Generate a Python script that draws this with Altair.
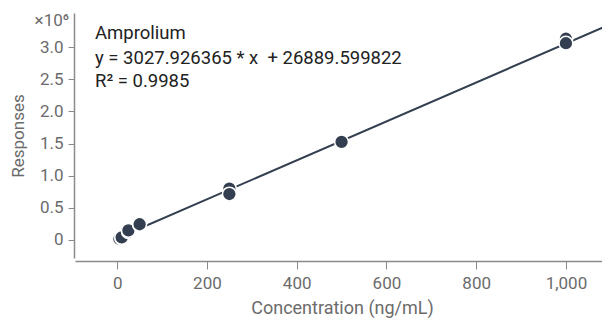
import altair as alt
import pandas as pd

conc = [5, 10, 10, 25, 25, 50, 50, 250, 250, 500, 1000, 1000]
resp = [15000, 30000, 40000, 130000, 150000, 235000, 245000, 800000, 715000, 1525000, 3130000, 3060000]

slope = 3027.926365
intercept = 26889.599822
line_x = [0, 1095]

y_ticks = [0, 500000, 1000000, 1500000, 2000000, 2500000, 3000000]
x_ticks = [0, 200, 400, 600, 800, 1000]

pts = pd.DataFrame({"x": conc, "y": resp})
ln = pd.DataFrame({"x": line_x, "y": [slope * v + intercept for v in line_x]})

font = "Roboto"
col = "#333f50"
gray = "#6b6b6b"

xs = alt.Scale(domain=[-94, 1096], nice=False, zero=False, range=[0, 534])
ys = alt.Scale(domain=[-280000, 3530000], nice=False, zero=False)

xaxis = alt.Axis(values=x_ticks, format=",.0f", grid=False, title="Concentration (ng/mL)",
                 labelFont=font, labelFontSize=17, labelColor=gray, labelPadding=6,
                 titleFont=font, titleFontSize=18, titleColor=gray, titleFontWeight="normal",
                 titlePadding=8, domainColor="#8a8a8a", tickColor="#8a8a8a", tickSize=8,
                 offset=3, domainWidth=1.5)
yaxis = alt.Axis(values=y_ticks, grid=False, title="Responses",
                 labelExpr="datum.value == 0 ? '0' : format(datum.value / 1000000, '.1f')",
                 labelFont=font, labelFontSize=17, labelColor=gray, labelPadding=5,
                 titleFont=font, titleFontSize=17, titleColor=gray, titleFontWeight="normal",
                 titlePadding=12, domainColor="#8a8a8a", tickColor="#8a8a8a", tickSize=6,
                 offset=1, domainWidth=1.5)

line = alt.Chart(ln).mark_line(color=col, strokeWidth=2).encode(
    x=alt.X("x:Q", scale=xs, axis=xaxis),
    y=alt.Y("y:Q", scale=ys, axis=yaxis),
)

points = alt.Chart(pts).mark_circle(size=190, color=col, opacity=1, stroke="white", strokeWidth=1.5).encode(
    x=alt.X("x:Q", scale=xs),
    y=alt.Y("y:Q", scale=ys),
)

texts = pd.DataFrame({
    "t": ["Amprolium", "y = 3027.926365 * x \u00a0+ 26889.599822", "R² = 0.9985"],
    "py": [20, 45, 68],
})
ann = alt.Chart(texts).mark_text(align="left", baseline="middle", font=font, fontSize=18.5,
                                 color="#222222").encode(
    x=alt.value(20), y=alt.Y("py:Q", scale=None, axis=None),
    text="t:N",
)

mult = alt.Chart(pd.DataFrame({"t": ["×10⁶"]})).mark_text(
    align="right", baseline="middle", font=font, fontSize=17, color=gray
).encode(x=alt.value(-6), y=alt.value(8), text="t:N")

chart = alt.layer(line, points, ann, mult).properties(
    width=527, height=245,
    padding={"left": 67, "top": 5, "right": 0, "bottom": 61},
    autosize=alt.AutoSizeParams(type="none"),
).configure_view(stroke=None)

chart.save("out.html", embed_options={"renderer": "svg", "actions": False})
